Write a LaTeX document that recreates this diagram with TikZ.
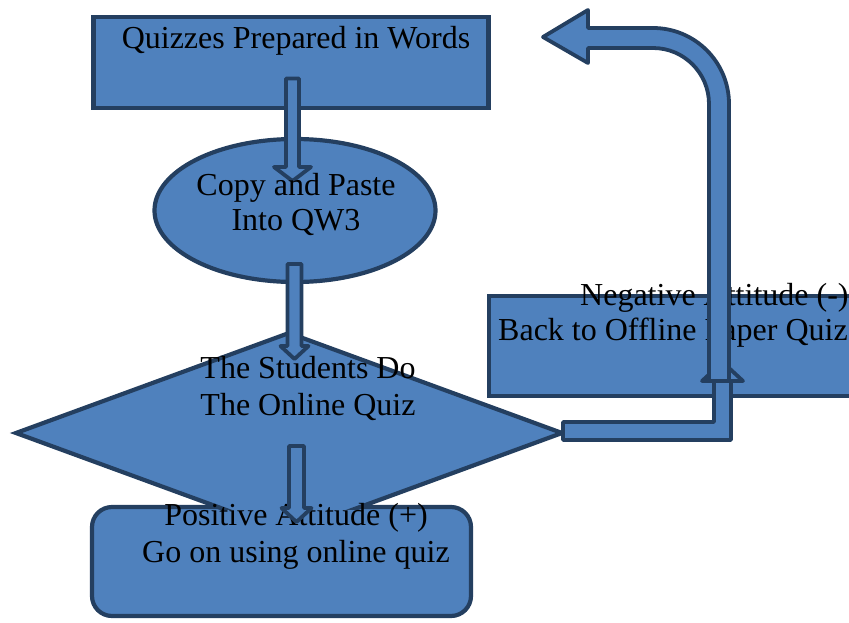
\documentclass[tikz,border=0pt]{standalone}
\usepackage{fontspec}
\setmainfont{Liberation Serif}
\usetikzlibrary{shapes.geometric}
\definecolor{fillblue}{HTML}{4F81BD}
\definecolor{edgeblue}{HTML}{243F60}
\tikzset{
 shapebox/.style={draw=edgeblue, fill=fillblue, line width=4.2pt, inner sep=0pt, outer sep=0pt},
 blk/.style={draw=edgeblue, fill=fillblue, line width=3.8pt, line join=round},
 lbl/.style={font=\fontsize{32}{36.5}\selectfont, text=black, inner sep=0pt, anchor=base},
}
\newcommand\downarrowblk[6]{%
 \draw[blk] ({#1-#4},#2) -- ({#1+#4},#2) -- ({#1+#4},{#3-#6}) -- ({#1+#5},{#3-#6}) -- (#1,#3) -- ({#1-#5},{#3-#6}) -- ({#1-#4},{#3-#6}) -- cycle;}
\begin{document}
\begin{tikzpicture}[x=1pt,y=-1pt]
\useasboundingbox (0,0) rectangle (849,622);
\fill[white] (0,0) rectangle (849,622);
% shapes
\node[shapebox, rectangle, minimum width=395pt, minimum height=91pt] (quiz) at (291,62.5) {};
\node[shapebox, ellipse, minimum width=281pt, minimum height=143pt] (copy) at (295,210.5) {};
\node[shapebox, rectangle, rounded corners=20pt, minimum width=379pt, minimum height=109pt] (pos) at (281.5,561.5) {};
\begin{scope}
\clip (0,0) rectangle (849,509);
\node[shapebox, diamond, minimum width=546pt, minimum height=200pt] (do) at (289,433) {};
\end{scope}
\node[shapebox, rectangle, minimum width=380pt, minimum height=100pt, anchor=north west] (neg) at (489,296) {};
% texts under arrows
\node[lbl, anchor=base west] (tn1) at (580,305) {Negative Attitude (-)};
\node[lbl, anchor=base west] (tn2) at (498,340) {Back to Offline Paper Quiz};
\node[lbl] (tp1) at (296,525) {Positive Attitude (+)};
\node[lbl] (tp2) at (296,562) {Go on using online quiz};
% block arrows
\downarrowblk{292.5}{78.5}{181}{6.5}{18.5}{14}
\downarrowblk{294.5}{264}{359}{7}{14}{13}
\downarrowblk{296.5}{446}{522}{7.5}{15}{14}
\draw[blk] (563,422) -- (714,422) -- (714,381) -- (702,381) -- (722.5,362) -- (743,381) -- (731,381) -- (731,440) -- (563,440) -- cycle;
\draw[blk] (709,381) -- (709,104) .. controls (709,73.07) and (683.93,48) .. (653,48) -- (588,48) -- (588,63) -- (543,37) -- (588,10) -- (588,28) -- (653,28) .. controls (694.97,28) and (729,62.03) .. (729,104) -- (729,381) -- cycle;
% texts on top
\node[lbl] (tq) at (296,48) {Quizzes Prepared in Words};
\node[lbl] (tc1) at (296,195) {Copy and Paste};
\node[lbl] (tc2) at (296,230) {Into QW3};
\node[lbl] (td1) at (308,378) {The Students Do};
\node[lbl] (td2) at (308,415) {The Online Quiz};
\end{tikzpicture}
\end{document}
